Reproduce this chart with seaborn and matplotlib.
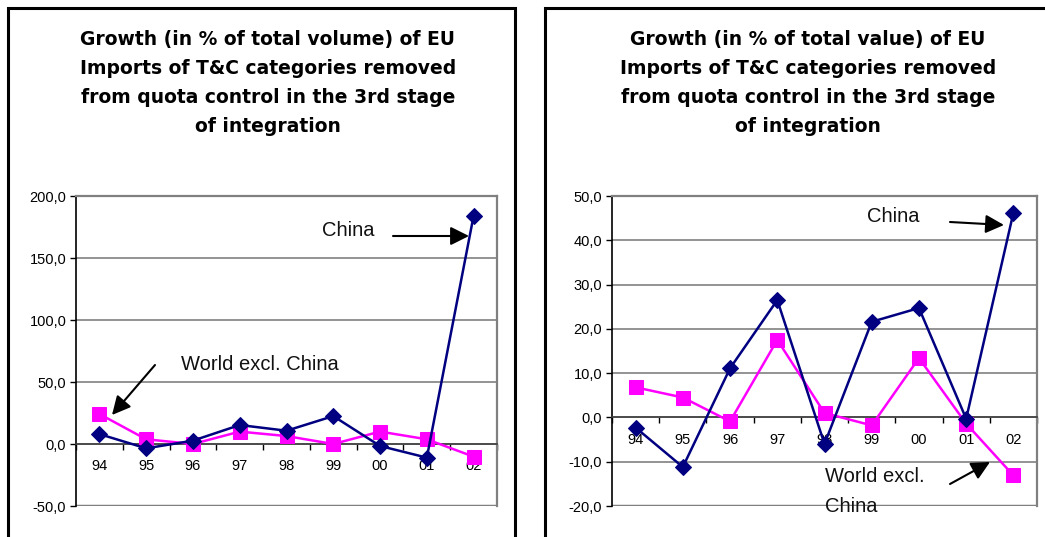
import matplotlib
matplotlib.use("Agg")
import matplotlib.pyplot as plt
import seaborn as sns
import numpy as np
import pandas as pd
from matplotlib.patches import Rectangle
from matplotlib.ticker import FuncFormatter, FixedLocator

# ---------------- data ----------------
years = ["94", "95", "96", "97", "98", "99", "00", "01", "02"]
volume_china = [8.0, -3.5, 2.7, 15.3, 10.7, 22.5, -1.6, -11.0, 184.0]
volume_world = [24.2, 3.8, 0.0, 10.0, 6.4, 0.0, 10.0, 3.8, -10.2]
value_china = [-2.3, -11.2, 11.1, 26.5, -6.0, 21.6, 24.7, -0.3, 46.2]
value_world = [6.8, 4.5, -0.9, 17.5, 1.0, -1.8, 13.4, -1.4, -13.1]

title_volume = ["Growth (in % of total volume) of EU",
                "Imports of T&C categories removed",
                "from quota control in the 3rd stage",
                "of integration"]
title_value = ["Growth (in % of total value) of EU",
               "Imports of T&C categories removed",
               "from quota control in the 3rd stage",
               "of integration"]
volume_yticks = [-50, 0, 50, 100, 150, 200]
value_yticks = [-20, -10, 0, 10, 20, 30, 40, 50]

sns.set_theme(style="white")
plt.rcParams['font.family'] = ['Liberation Sans', 'DejaVu Sans']

W, H = 1045, 537
fig = plt.figure(figsize=(W / 100, H / 100), dpi=100)


def px_rect(x0, y0, x1, y1):
    return [x0 / W, (H - y1) / H, (x1 - x0) / W, (y1 - y0) / H]


# panel frames
fig.patches.append(Rectangle((8 / W, -0.05), (515 - 8) / W, (H - 8) / H + 0.05,
                             transform=fig.transFigure, fill=False,
                             edgecolor="black", lw=2.2))
fig.patches.append(Rectangle((545 / W, -0.05), 0.6, (H - 8) / H + 0.05,
                             transform=fig.transFigure, fill=False,
                             edgecolor="black", lw=2.2))

NAVY = "#000080"
MAG = "#FF00FF"


def comma(v, pos):
    return f"{v:.1f}".replace(".", ",")


def draw(ax, china, world, yticks):
    x = np.arange(len(years))
    df = pd.DataFrame({"x": np.concatenate([x, x]),
                       "y": china + world,
                       "s": ["China"] * len(x) + ["World"] * len(x)})
    sns.lineplot(data=df[df.s == "World"], x="x", y="y", ax=ax, color=MAG,
                 lw=1.8, marker="s", markersize=10, markeredgecolor=MAG,
                 zorder=3, legend=False)
    sns.lineplot(data=df[df.s == "China"], x="x", y="y", ax=ax, color=NAVY,
                 lw=1.8, marker="D", markersize=8, markeredgecolor=NAVY,
                 zorder=4, legend=False)
    ax.set_xlim(-0.5, len(years) - 0.5)
    ax.set_ylim(yticks[0], yticks[-1])
    ax.set_xlabel("")
    ax.set_ylabel("")
    ax.yaxis.set_major_locator(FixedLocator(yticks))
    ax.yaxis.set_major_formatter(FuncFormatter(comma))
    ax.grid(axis="y", color="#808080", lw=1.2)
    ax.grid(axis="x", visible=False)
    for s in ["top", "right"]:
        ax.spines[s].set_color("#808080")
        ax.spines[s].set_linewidth(1.6)
    ax.spines["left"].set_color("black")
    ax.spines["left"].set_linewidth(1.2)
    ax.spines["bottom"].set_position(("data", 0))
    ax.spines["bottom"].set_color("#404040")
    ax.spines["bottom"].set_linewidth(1.2)
    ax.axhline(yticks[0], color="#808080", lw=2.5, zorder=1)
    ax.set_xticks(x)
    ax.set_xticklabels(years, fontsize=10.5)
    ax.set_xticks(np.arange(-0.5, len(years), 1.0), minor=True)
    ax.tick_params(axis="x", which="major", length=0, pad=11, colors="black")
    ax.tick_params(axis="x", which="minor", length=4, width=1,
                   direction="out", color="black", bottom=True)
    ax.tick_params(axis="y", which="major", length=4, width=1, pad=3,
                   direction="out", left=True, labelsize=10.5, colors="black")
    for lab in ax.get_xticklabels():
        lab.set_zorder(6)
    ax.set_facecolor("white")


ax1 = fig.add_axes(px_rect(76, 196, 497, 506))
draw(ax1, volume_china, volume_world, volume_yticks)
ax2 = fig.add_axes(px_rect(612, 196, 1037, 506))
draw(ax2, value_china, value_world, value_yticks)

# titles
for lines, cx in [(title_volume, 268), (title_value, 808)]:
    for i, line in enumerate(lines):
        fig.text(cx / W, (H - (39 + 29.3 * i)) / H, line, ha="center",
                 va="center", fontsize=13.5, fontweight="bold", color="black",
                 family=["DejaVu Sans"])

arrow = dict(arrowstyle="-|>", mutation_scale=28, lw=1.5, color="black",
             shrinkA=0, shrinkB=0)

# annotations
ann = dict(fontsize=14.5, va="center", ha="left", color="#111111")
fig.text(322 / W, (H - 231) / H, "China", **ann)
fig.text(181 / W, (H - 364) / H, "World excl. China", **ann)
fig.text(867 / W, (H - 217) / H, "China", **ann)
fig.text(825 / W, (H - 477) / H, "World excl.", **ann)
fig.text(825 / W, (H - 507) / H, "China", **ann)

for (x0, y0), (x1, y1) in [((393, 236), (469, 236)),
                           ((155, 365), (112, 415)),
                           ((950, 222), (1004, 225)),
                           ((950, 484), (990, 462))]:
    fig.add_artist(matplotlib.patches.FancyArrowPatch(
        (x0 / W, (H - y0) / H), (x1 / W, (H - y1) / H),
        transform=fig.transFigure, **arrow))

fig.savefig("out.png", dpi=100)
